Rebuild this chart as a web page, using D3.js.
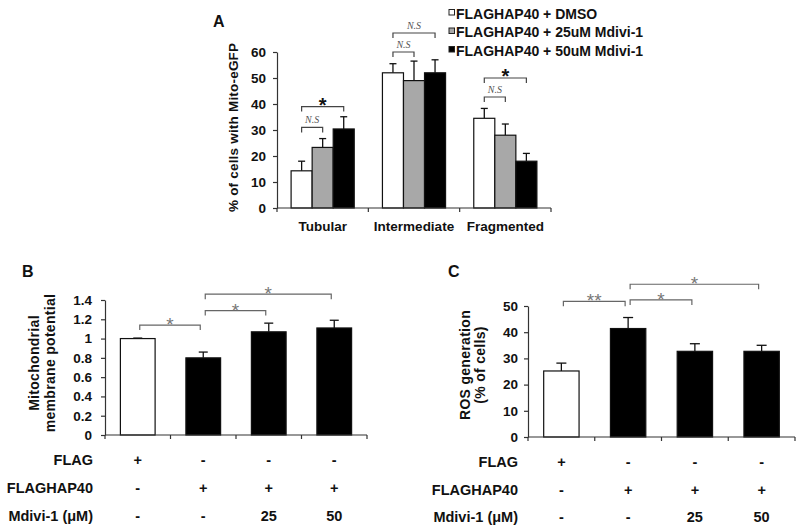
<!DOCTYPE html>
<html>
<head>
<meta charset="utf-8">
<script src="https://cdn.jsdelivr.net/npm/d3@7"></script>
<style>
  body { margin: 0; background: #fff; }
  svg text { font-family: Arial, "Liberation Sans", sans-serif; font-weight: bold; fill: #111; }
</style>
</head>
<body>
<div class="canvas"></div>
<script>
// ---------- data ----------
// panel A
const categoriesA = ['Tubular', 'Intermediate', 'Fragmented'];
const seriesA = ['FLAGHAP40 + DMSO', 'FLAGHAP40 + 25uM Mdivi-1', 'FLAGHAP40 + 50uM Mdivi-1'];
const dmsoA = [14.3, 52, 34.5];
const mdivi25A = [23.3, 49, 28];
const mdivi50A = [30.4, 52, 18];
const dmsoErrA = [3.7, 3.5, 3.8];
const mdivi25ErrA = [3.4, 7.5, 4.3];
const mdivi50ErrA = [4.7, 5, 3];
const ticksA = [0, 10, 20, 30, 40, 50, 60];
// [category, from bar, to bar, bracket level (%), label]
const sigA = [
  ['Tubular', 0, 1, 31, 'N.S'],
  ['Tubular', 0, 2, 39, '*'],
  ['Intermediate', 0, 1, 60, 'N.S'],
  ['Intermediate', 0, 2, 67.3, 'N.S'],
  ['Fragmented', 0, 1, 42.7, 'N.S'],
  ['Fragmented', 0, 2, 50, '*']
];

// panels B and C share the same four conditions
const conditions = ['FLAG', 'FLAGHAP40', 'FLAGHAP40 + Mdivi-1 25', 'FLAGHAP40 + Mdivi-1 50'];
const mmpB = [1.0, 0.8, 1.07, 1.11];
const mmpErrB = [0.005, 0.06, 0.09, 0.08];
const ticksB = [0, 0.2, 0.4, 0.6, 0.8, 1, 1.2, 1.4];
const sigB = [[0, 1, 1.14, '*'], [1, 2, 1.29, '*'], [1, 3, 1.46, '*']];

const rosC = [25.2, 41.4, 32.7, 32.7];
const rosErrC = [3, 4.2, 2.9, 2.3];
const ticksC = [0, 10, 20, 30, 40, 50];
const sigC = [[0, 1, 51.8, '**'], [1, 2, 52.3, '*'], [1, 3, 58.3, '*']];

// treatment table under B and C
const tableRows = ['FLAG', 'FLAGHAP40', 'Mdivi-1 (\u03bcM)'];
const flagRow = ['+', '-', '-', '-'];
const hapRow = ['-', '+', '+', '+'];
const mdiviRow = ['-', '-', '25', '50'];

// ---------- styles ----------
const fillsA = ['#ffffff', '#a8a8a8', '#000000'];
const fillsBC = ['#ffffff', '#000000', '#000000', '#000000'];
const axisColor = '#333';

// main svg
const svg = d3.select('.canvas').append('svg')
    .attr('width', 801)
    .attr('height', 531);
svg.append('rect').attr('width', 801).attr('height', 531).attr('fill', '#fff');

// y axis with short outside ticks
function yAxis(y, ticks, xPos, pad, fmt) {
  const g = svg.append('g')
      .attr('transform', `translate(${xPos},0)`)
      .call(d3.axisLeft(y).tickValues(ticks).tickSize(4).tickSizeOuter(0)
        .tickPadding(pad).tickFormat(fmt));
  g.selectAll('path, line').attr('stroke', axisColor).attr('stroke-width', 1.2);
  g.selectAll('text').attr('font-size', 13.5).attr('font-family', null).attr('fill', '#111');
  return g;
}

// x baseline with ticks at the category boundaries
function xBaseline(x, yBase) {
  const [x0, x1] = x.range();
  const g = svg.append('g');
  g.append('line').attr('x1', x0).attr('x2', x1).attr('y1', yBase).attr('y2', yBase)
    .attr('stroke', axisColor).attr('stroke-width', 1.2);
  g.selectAll('line.tick')
    .data(x.domain().map(d => x(d)).concat([x1]))
    .join('line').attr('class', 'tick')
    .attr('x1', d => d).attr('x2', d => d)
    .attr('y1', yBase).attr('y2', yBase + 4)
    .attr('stroke', axisColor).attr('stroke-width', 1.2);
  return g;
}

// bar with upper error bar
function barWithError(g, cx, w, y, v, e, fill, cap) {
  g.append('line').attr('x1', cx).attr('x2', cx)
    .attr('y1', y(v)).attr('y2', y(v + e))
    .attr('stroke', '#111').attr('stroke-width', 1.3);
  g.append('line').attr('x1', cx - cap).attr('x2', cx + cap)
    .attr('y1', y(v + e)).attr('y2', y(v + e))
    .attr('stroke', '#111').attr('stroke-width', 1.3);
  g.append('rect')
    .attr('x', cx - w / 2).attr('y', y(v))
    .attr('width', w).attr('height', y(0) - y(v))
    .attr('fill', fill).attr('stroke', '#111').attr('stroke-width', 1.2);
}

// significance bracket
function bracket(g, xa, xb, yb, color) {
  g.append('path')
    .attr('d', `M${xa},${yb + 5}V${yb}H${xb}V${yb + 5}`)
    .attr('fill', 'none').attr('stroke', color).attr('stroke-width', 1.2);
}

// ================= panel A =================
const yA = d3.scaleLinear().domain([0, 60]).range([208, 52]);
const xA = d3.scaleBand().domain(categoriesA).range([277, 551]);
const xA1 = d3.scaleBand().domain(d3.range(seriesA.length))
    .range([0, xA.bandwidth()]).paddingOuter(0.67);

const valuesA = [dmsoA, mdivi25A, mdivi50A];
const errorsA = [dmsoErrA, mdivi25ErrA, mdivi50ErrA];
const gA = svg.append('g');
categoriesA.forEach((c, ci) => {
  seriesA.forEach((s, si) => {
    const cx = xA(c) + xA1(si) + xA1.bandwidth() / 2;
    barWithError(gA, cx, xA1.bandwidth(), yA, valuesA[si][ci], errorsA[si][ci], fillsA[si], 3.5);
  });
});
xBaseline(xA, yA(0));
yAxis(yA, ticksA, 277, 7, d3.format('d'));

gA.selectAll('text.cat')
  .data(categoriesA)
  .join('text').attr('class', 'cat')
  .attr('x', d => xA(d) + xA.bandwidth() / 2)
  .attr('y', 231)
  .attr('text-anchor', 'middle')
  .attr('font-size', 13.5)
  .text(d => d);

sigA.forEach(([c, a, b, lvl, label]) => {
  const xa = xA(c) + xA1(a) + xA1.bandwidth() / 2;
  const xb = xA(c) + xA1(b) + xA1.bandwidth() / 2;
  const yb = yA(lvl);
  bracket(gA, xa, xb, yb, '#444');
  if (label === 'N.S') {
    gA.append('text')
      .attr('x', (xa + xb) / 2).attr('y', yb - 4)
      .attr('text-anchor', 'middle')
      .style('font-family', '"Liberation Serif", "Times New Roman", serif')
      .style('font-style', 'italic').style('font-weight', 'normal')
      .style('fill', '#555')
      .attr('font-size', 10)
      .text(label);
  } else {
    gA.append('text')
      .attr('x', (xa + xb) / 2).attr('y', yb + 5)
      .attr('text-anchor', 'middle')
      .attr('font-size', 20)
      .text(label);
  }
});

// y label A
svg.append('text')
  .attr('transform', `translate(238,${yA(31)}) rotate(-90)`)
  .attr('text-anchor', 'middle')
  .attr('font-size', 13.5)
  .style('letter-spacing', '0.2px')
  .text('% of cells with Mito-eGFP');

// legend A
const legA = svg.append('g');
seriesA.forEach((s, i) => {
  const base = 18.5 + i * 18.5;
  legA.append('rect')
    .attr('x', 449).attr('y', base - 9).attr('width', 5.5).attr('height', 5.5)
    .attr('fill', fillsA[i]).attr('stroke', '#222').attr('stroke-width', 1);
  legA.append('text')
    .attr('x', 456).attr('y', base)
    .attr('font-size', 14)
    .text(s);
});

svg.append('text').attr('x', 213).attr('y', 27).attr('font-size', 16).text('A');

// ================= panels B and C =================
function treatmentPanel(opts) {
  const { y, x, values, errors, ticks, fmt, sig, letter, letterX, labels,
          labelX, labelY, labelEnd, pad, cap, rowY } = opts;
  const g = svg.append('g');
  const w = x.bandwidth() * 0.53;
  conditions.forEach((c, i) => {
    barWithError(g, x(c) + x.bandwidth() / 2, w, y, values[i], errors[i], fillsBC[i], cap);
  });
  xBaseline(x, y(0));
  yAxis(y, ticks, x.range()[0], pad, fmt);

  const cx = i => x(conditions[i]) + x.bandwidth() / 2;
  sig.forEach(([a, b, lvl, label]) => {
    const xa = cx(a) + 2, xb = cx(b) - 3;
    const yb = y(lvl);
    bracket(g, xa, xb, yb, '#666');
    g.append('text')
      .attr('x', (xa + xb) / 2).attr('y', yb + 6)
      .attr('text-anchor', 'middle')
      .attr('font-size', 19)
      .style('font-weight', 'normal')
      .style('fill', '#777')
      .text(label);
  });

  // rotated y label, two lines
  labels.forEach((t, i) => {
    g.append('text')
      .attr('transform', `translate(${labelX[i]},${labelY}) rotate(-90)`)
      .attr('text-anchor', 'middle')
      .attr('font-size', 14)
      .style('letter-spacing', '0.3px')
      .text(t);
  });

  g.append('text').attr('x', letterX).attr('y', 277).attr('font-size', 16).text(letter);

  // treatment table
  [flagRow, hapRow, mdiviRow].forEach((row, r) => {
    g.append('text')
      .attr('x', labelEnd).attr('y', rowY[r])
      .attr('text-anchor', 'end')
      .attr('font-size', 14.5)
      .text(tableRows[r]);
    g.selectAll(null)
      .data(row)
      .join('text')
      .attr('x', (d, i) => cx(i))
      .attr('y', rowY[r])
      .attr('text-anchor', 'middle')
      .attr('font-size', 14.5)
      .text(d => d);
  });
}

treatmentPanel({
  y: d3.scaleLinear().domain([0, 1.4]).range([435, 300]),
  x: d3.scaleBand().domain(conditions).range([105, 367]),
  values: mmpB, errors: mmpErrB, ticks: ticksB,
  fmt: d => String(+d.toFixed(1)),
  sig: sigB, letter: 'B', letterX: 22,
  labels: ['Mitochondrial', 'membrane potential'],
  labelX: [39, 55], labelY: 363,
  labelEnd: 93, pad: 9, cap: 4.5,
  rowY: [465, 493, 521]
});

treatmentPanel({
  y: d3.scaleLinear().domain([0, 50]).range([437, 306]),
  x: d3.scaleBand().domain(conditions).range([528, 795]),
  values: rosC, errors: rosErrC, ticks: ticksC,
  fmt: d3.format('d'),
  sig: sigC, letter: 'C', letterX: 448,
  labels: ['ROS generation', '(% of cells)'],
  labelX: [470, 485], labelY: 365,
  labelEnd: 518, pad: 6, cap: 5,
  rowY: [467, 495, 522]
});
</script>
</body>
</html>
